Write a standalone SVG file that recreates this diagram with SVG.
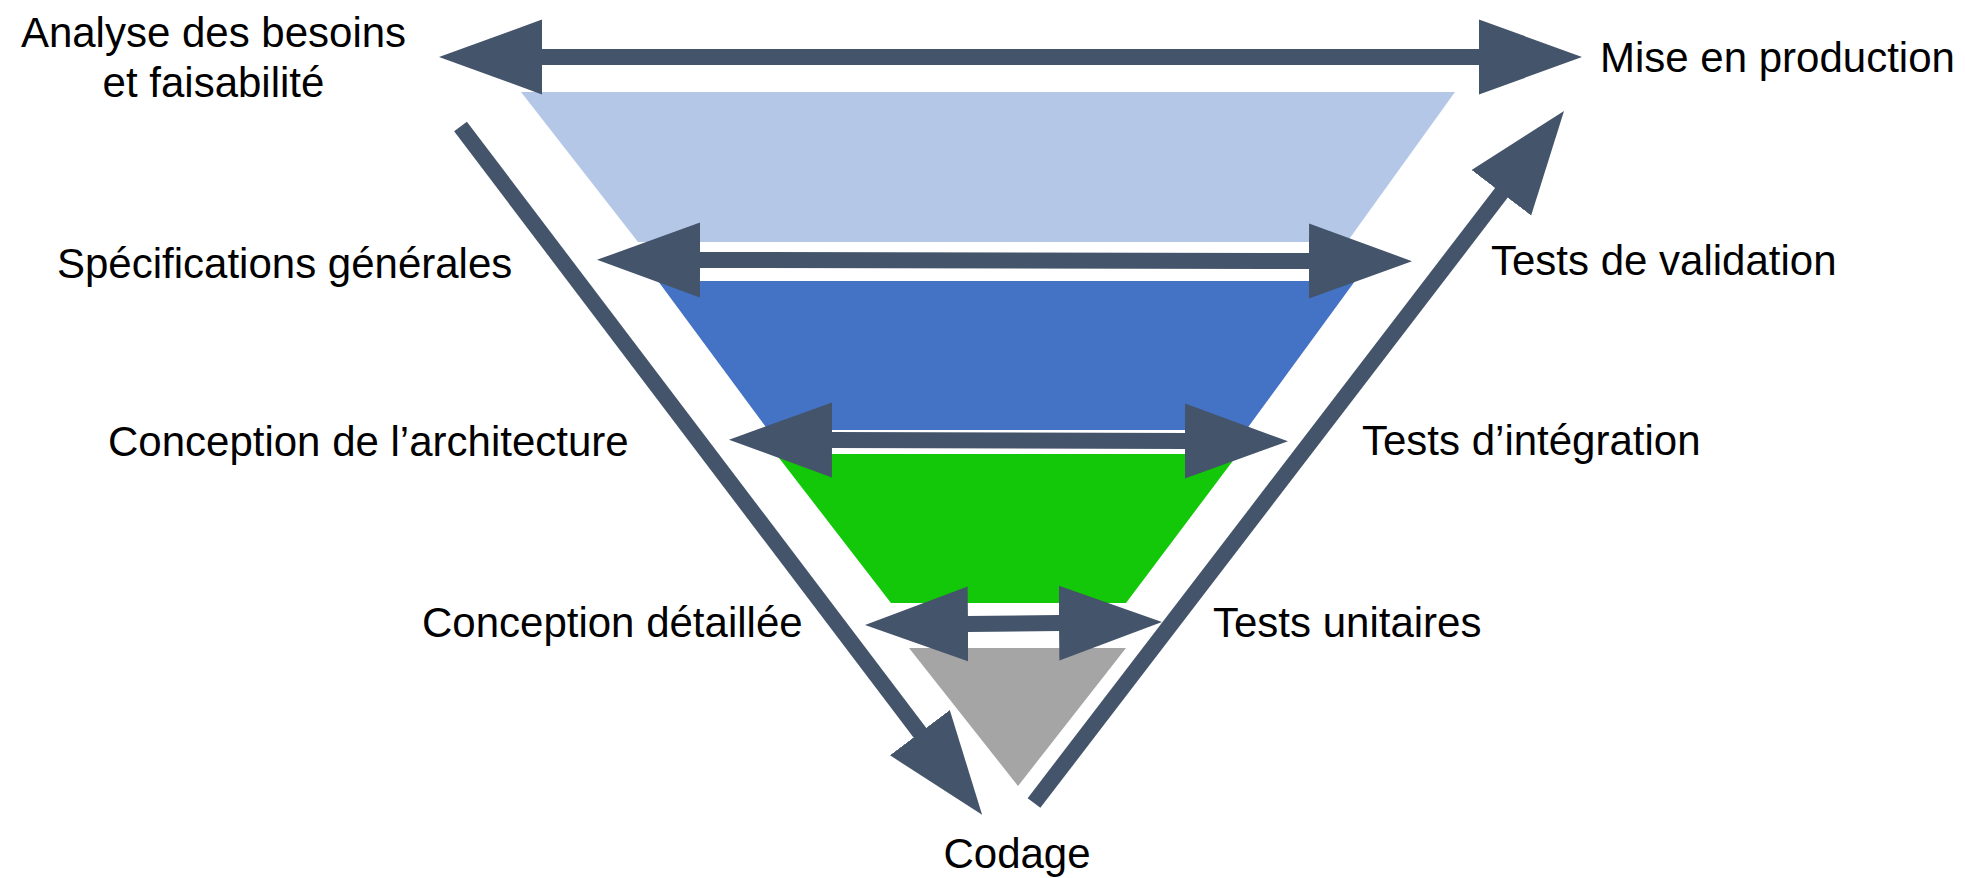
<svg xmlns="http://www.w3.org/2000/svg" width="1965" height="878" viewBox="0 0 1965 878">
  <style>
    .lbl { font-family: "Liberation Sans", Arial, sans-serif; font-size: 42px; fill: #000000; }
    .mid { text-anchor: middle; }
    .conn { stroke: #44546A; stroke-width: 16; fill: none; stroke-linecap: butt; }
    .dbl { marker-start: url(#head); marker-end: url(#head); }
    .one { marker-end: url(#head); }
  </style>
  <defs>
    <marker id="head" markerUnits="userSpaceOnUse" viewBox="0 -38 104 76" markerWidth="104" markerHeight="76" refX="1" refY="0" orient="auto-start-reverse">
      <path d="M0,-37.5 L103,0 L0,37.5 Z" fill="#44546A"/>
    </marker>
  </defs>
  <rect width="1965" height="878" fill="#FFFFFF"/>

  <g id="band-analyse">
    <polygon points="521,92 1455,92 1347,242 638,242" fill="#B4C7E7"/>
  </g>
  <g id="band-specifications">
    <polygon points="658,281 1355,281 1246,430 768,430" fill="#4472C4"/>
  </g>
  <g id="band-conception">
    <polygon points="776,454 1238,454 1126,603 891,603" fill="#12C808"/>
  </g>
  <g id="band-codage">
    <polygon points="909,648 1126,648 1018,786" fill="#A5A5A5"/>
  </g>

  <g id="connectors">
    <line class="conn dbl" x1="541" y1="57" x2="1480" y2="57"/>
    <line class="conn dbl" x1="699" y1="260" x2="1310" y2="261"/>
    <line class="conn dbl" x1="831" y1="440" x2="1186" y2="441"/>
    <line class="conn dbl" x1="967" y1="624" x2="1060" y2="623"/>
    <line class="conn one" x1="460.5" y1="126.5" x2="920.5" y2="733.5"/>
    <line class="conn one" x1="1034" y1="803" x2="1502" y2="192"/>
  </g>

  <g id="label-analyse">
    <text class="lbl mid" x="213.5" y="47">Analyse des besoins</text>
    <text class="lbl mid" x="213.5" y="97">et faisabilité</text>
  </g>
  <g id="label-specifications">
    <text class="lbl" x="57" y="278">Spécifications générales</text>
  </g>
  <g id="label-architecture">
    <text class="lbl" x="108" y="456">Conception de l’architecture</text>
  </g>
  <g id="label-detaillee">
    <text class="lbl" x="422" y="637">Conception détaillée</text>
  </g>
  <g id="label-codage">
    <text class="lbl mid" x="1017" y="868">Codage</text>
  </g>
  <g id="label-unitaires">
    <text class="lbl" x="1213" y="637">Tests unitaires</text>
  </g>
  <g id="label-integration">
    <text class="lbl" x="1362" y="455">Tests d’intégration</text>
  </g>
  <g id="label-validation">
    <text class="lbl" x="1491" y="275">Tests de validation</text>
  </g>
  <g id="label-production">
    <text class="lbl" x="1600" y="72">Mise en production</text>
  </g>
</svg>
